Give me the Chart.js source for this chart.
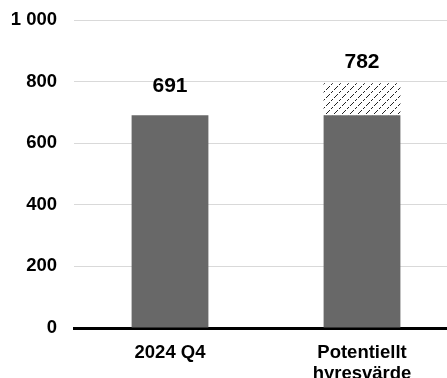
<!DOCTYPE html>
<html>
<head>
<meta charset="utf-8">
<script src="https://cdn.jsdelivr.net/npm/chart.js@4"></script>
<style>
  html, body { margin: 0; padding: 0; background: #fff; overflow: hidden; }
  #wrap { width: 460px; height: 378px; }
</style>
</head>
<body>
<div id="wrap"><canvas id="myChart"></canvas></div>
<script>
/* data */
const categories = ['2024 Q4', ['Potentiellt', 'hyresvärde']];
const baseValues = [691, 691];
const extraValues = [0, 104];
const totalLabels = ['691', '782'];
const yTicks = [0, 200, 400, 600, 800, 1000];

/* hatch pattern for the extra part */
function makeHatch() {
  const c = document.createElement('canvas');
  c.width = 8; c.height = 8;
  const g = c.getContext('2d');
  g.fillStyle = '#fff';
  g.fillRect(0, 0, 8, 8);
  g.fillStyle = '#222';
  for (let i = 0; i < 8; i++) {
    if (i % 3 !== 2) g.fillRect(i, 7 - i, 1, 1);
  }
  return document.getElementById('myChart').getContext('2d').createPattern(c, 'repeat');
}

/* labels above the bars */
const totalsPlugin = {
  id: 'totals',
  afterDatasetsDraw(chart) {
    const ctx = chart.ctx;
    const y = chart.scales.y;
    const meta = chart.getDatasetMeta(0);
    ctx.save();
    ctx.font = 'bold 21px "Liberation Sans", Arial, sans-serif';
    ctx.fillStyle = '#000';
    ctx.textAlign = 'center';
    ctx.textBaseline = 'middle';
    meta.data.forEach(function(bar, i) {
      const top = y.getPixelForValue(baseValues[i] + extraValues[i]);
      ctx.fillText(totalLabels[i], bar.x, top - (i === 0 ? 29 : 21));
    });
    ctx.restore();
  }
};

const tickFont = { family: '"Liberation Sans", Arial, sans-serif', size: 18.5, weight: 'bold', lineHeight: 1.1 };

const chart = new Chart(document.getElementById('myChart'), {
  type: 'bar',
  data: {
    labels: categories,
    datasets: [{
      data: baseValues,
      backgroundColor: '#686868',
      barPercentage: 0.4,
      categoryPercentage: 1,
    },
    {
      data: extraValues,
      backgroundColor: makeHatch(),
      barPercentage: 0.4,
      categoryPercentage: 1,
    }],
  },
  options: {
    responsive: true,
    maintainAspectRatio: false,
    animation: false,
    layout: { padding: { top: 20, left: 0, right: 2, bottom: 0 } },
    plugins: { legend: { display: false }, tooltip: { enabled: false } },
    scales: {
      x: {
        stacked: true,
        grid: { display: false },
        border: { display: true, color: '#000', width: 3 },
        ticks: { font: tickFont, color: '#000', padding: 7, maxRotation: 0 },
        afterFit: function(scale) { scale.height = 50; },
      },
      y: {
        stacked: true,
        min: 0,
        max: 1000,
        afterBuildTicks: function(scale) {
          scale.ticks = yTicks.map(function(v) { return { value: v }; });
        },
        afterFit: function(scale) {
          scale.width = 74;
          scale.paddingTop = 0;
          scale.paddingBottom = 0;
        },
        grid: { color: '#d9d9d9', lineWidth: 1, drawTicks: false },
        border: { display: false },
        ticks: {
          font: tickFont,
          color: '#000',
          padding: 17,
          callback: function(v) { return v >= 1000 ? '1 000' : String(v); },
        },
      },
    },
  },
  plugins: [totalsPlugin],
});
</script>
</body>
</html>
